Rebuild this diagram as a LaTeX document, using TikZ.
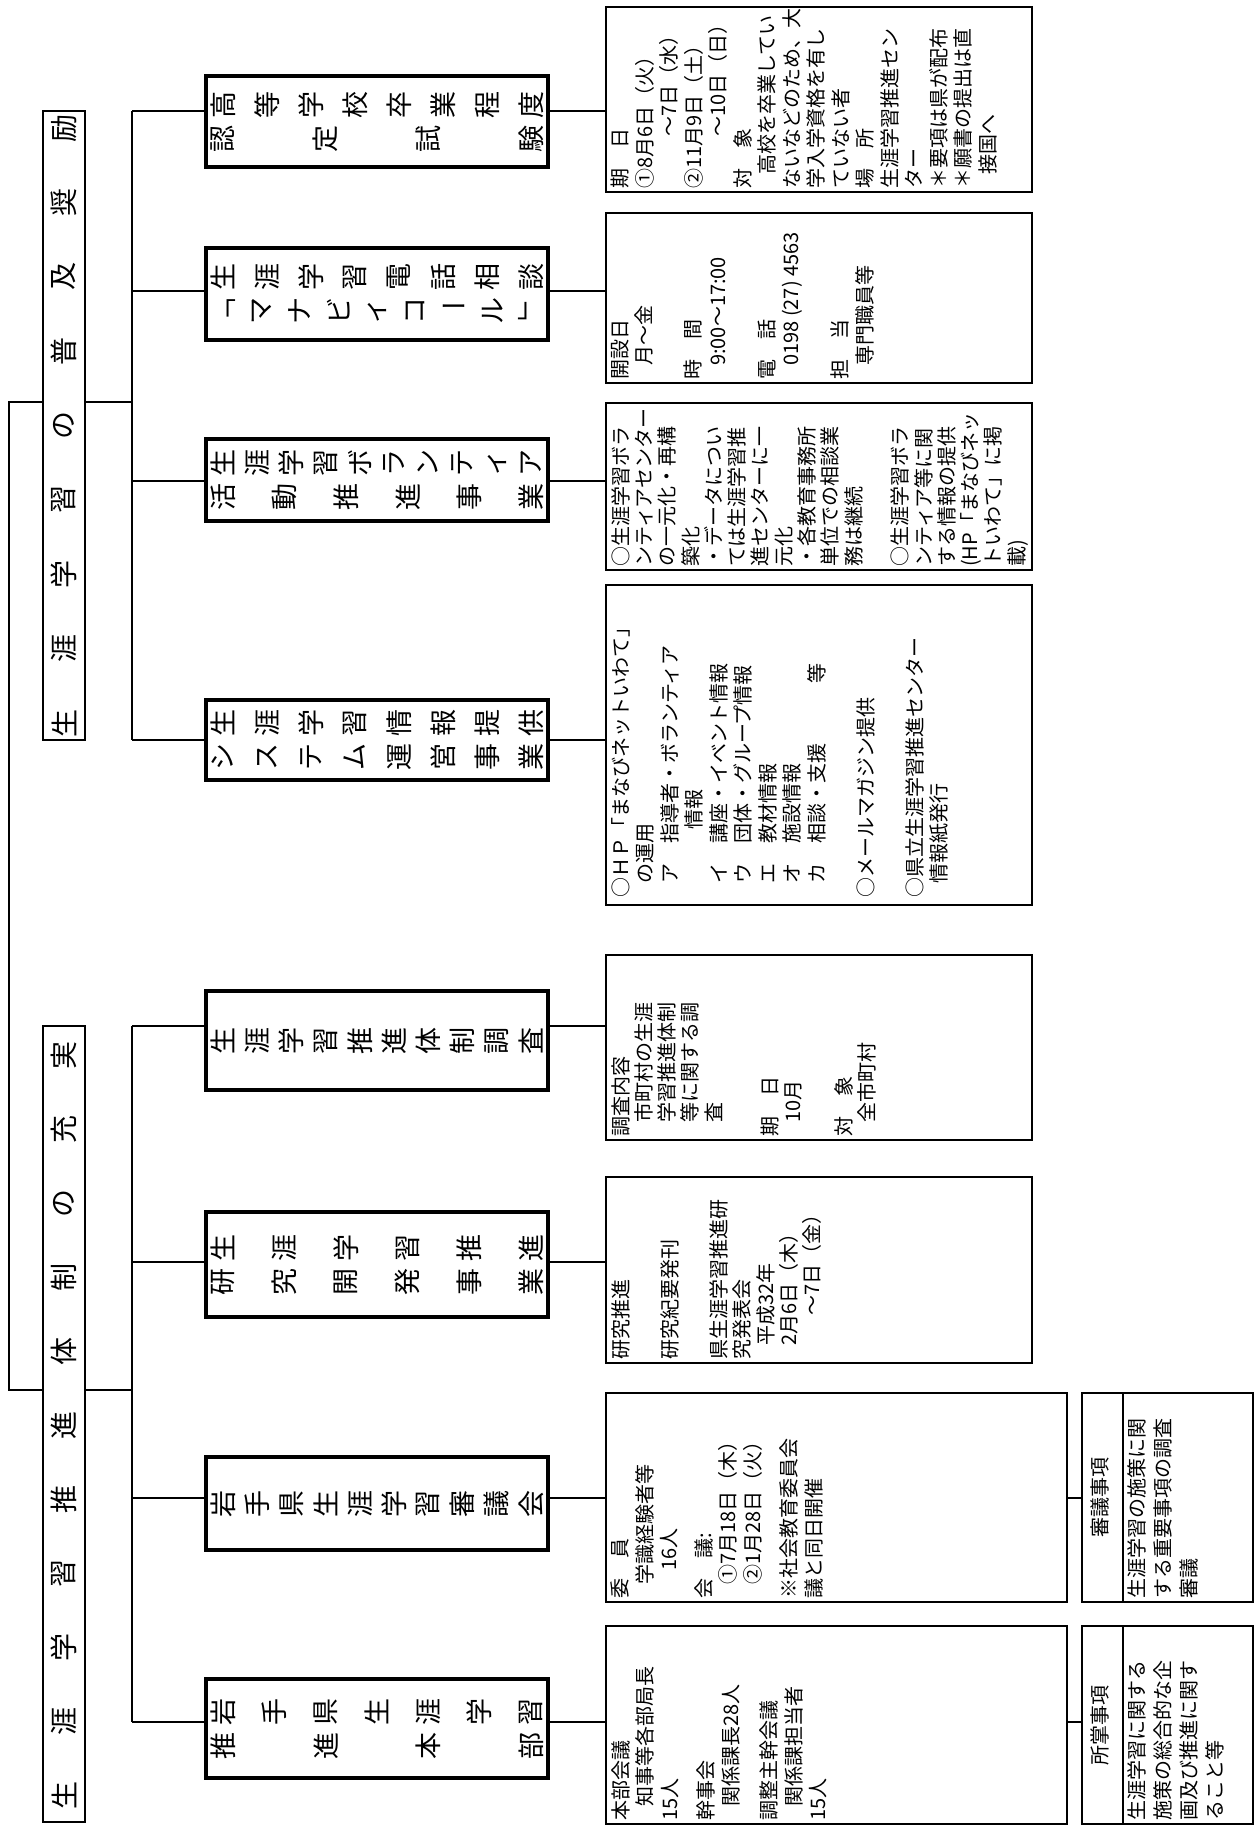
\documentclass[tikz,border=0pt]{standalone}
\usepackage{fontspec}
\setmainfont{Noto Sans CJK JP}
\newcommand{\ii}{\hspace*{0.7em}}
\newcommand{\tcol}[4]{%
  \foreach \ch [count=\idx from 0] in {#4}
    \node[tch] (#1\idx) at ({223+\idx*308/(#3-1)},#2) {\ch};}
\begin{document}
\begin{tikzpicture}[x=1pt,y=-1pt,
  strip/.style={draw, line width=2.5pt, minimum width=42pt, inner sep=0pt},
  tbox/.style={draw, line width=4.5pt, minimum width=342pt, inner sep=0pt},
  dbox/.style={draw, line width=2pt, inner sep=0pt},
  link/.style={line width=2pt},
  dtext/.style={rotate=90, anchor=north west, align=left, inner sep=0pt, font=\fontsize{20}{24.5}\selectfont},
  tch/.style={rotate=90, inner sep=0pt, font=\fontsize{27}{27}\selectfont},
  tchh/.style={inner sep=0pt, font=\fontsize{27}{27}\selectfont},
  sch/.style={rotate=90, inner sep=0pt, font=\fontsize{28}{28}\selectfont},
  stitle/.style={rotate=90, inner sep=0pt, font=\fontsize{20}{24}\selectfont},
]
\path[use as bounding box, fill=white] (0,0) rectangle (1259,1828);

% ---- top-level strips
\node[strip, minimum height=629pt] (A) at (64,425.5) {};
\node[strip, minimum height=796pt] (B) at (64,1424) {};
\foreach \ch [count=\idx from 0] in {生,涯,学,習,の,普,及,奨,励}
  \node[sch] (a\idx) at (64,{723-\idx*74.375}) {\ch};
\foreach \ch [count=\idx from 0] in {生,涯,学,習,推,進,体,制,の,充,実}
  \node[sch] (b\idx) at (64,{1795-\idx*74}) {\ch};

% ---- bracket joining the strips
\coordinate (brA) at (9,402);
\coordinate (brB) at (9,1390);
\draw[link] (A.west|-brA) -- (brA) -- (brB) -- (B.west|-brB);

% ---- thick boxes
\node[tbox, minimum height=91pt] (T1) at (377,121.5) {};
\node[tbox, minimum height=92pt] (T2) at (377,294) {};
\node[tbox, minimum height=82pt] (T3) at (377,480) {};
\node[tbox, minimum height=80pt] (T4) at (377,740) {};
\node[tbox, minimum height=99pt] (T5) at (377,1040.5) {};
\node[tbox, minimum height=105pt] (T6) at (377,1264.5) {};
\node[tbox, minimum height=93pt] (T7) at (377,1503.5) {};
\node[tbox, minimum height=99pt] (T8) at (377,1728.5) {};

\tcol{ta}{104.5}{8}{高,等,学,校,卒,業,程,度}
\tcol{tb}{138.5}{4}{認,定,試,験}
\tcol{tc}{277}{8}{生,涯,学,習,電,話,相,談}
\foreach \ch/\rr [count=\idx from 0] in {「/0,マ/90,ナ/90,ビ/90,ィ/90,コ/90,ー/0,ル/90,」/0}
  \node[tchh, rotate=\rr] (td\idx) at ({223+\idx*308/8},311) {\ch};
\tcol{te}{463}{10}{生,涯,学,習,ボ,ラ,ン,テ,ィ,ア}
\tcol{tf}{497}{6}{活,動,推,進,事,業}
\tcol{tg}{723}{8}{生,涯,学,習,情,報,提,供}
\tcol{th}{757}{8}{シ,ス,テ,ム,運,営,事,業}
\tcol{ti}{1040.5}{10}{生,涯,学,習,推,進,体,制,調,査}
\tcol{tj}{1248}{6}{生,涯,学,習,推,進}
\tcol{tk}{1282}{6}{研,究,開,発,事,業}
\tcol{tl}{1503.5}{10}{岩,手,県,生,涯,学,習,審,議,会}
\tcol{tm}{1712}{7}{岩,手,県,生,涯,学,習}
\tcol{tn}{1746}{4}{推,進,本,部}

% ---- detail boxes
\node[dbox, minimum width=426pt, minimum height=185pt] (D1) at (819,99.5) {};
\node[dbox, minimum width=426pt, minimum height=170pt] (D2) at (819,298) {};
\node[dbox, minimum width=426pt, minimum height=167pt] (D3) at (819,486.5) {};
\node[dbox, minimum width=426pt, minimum height=320pt] (D4) at (819,745) {};
\node[dbox, minimum width=426pt, minimum height=185pt] (D5) at (819,1047.5) {};
\node[dbox, minimum width=426pt, minimum height=186pt] (D6) at (819,1270) {};
\node[dbox, minimum width=461pt, minimum height=209pt] (D7) at (836.5,1497.5) {};
\node[dbox, minimum width=461pt, minimum height=198pt] (D8) at (836.5,1725) {};
\node[dbox, minimum width=171pt, minimum height=209pt] (S7) at (1167.5,1497.5) {};
\node[dbox, minimum width=171pt, minimum height=198pt] (S8) at (1167.5,1725) {};

% ---- trunks and branches
\coordinate (jA) at (132,402);
\coordinate (jB) at (132,1390);
\coordinate (p1) at (132,111);
\coordinate (p2) at (132,291);
\coordinate (p3) at (132,481);
\coordinate (p4) at (132,740);
\coordinate (p5) at (132,1026);
\coordinate (p6) at (132,1262);
\coordinate (p7) at (132,1498);
\coordinate (p8) at (132,1722);
\draw[link] (A.east|-jA) -- (jA);
\draw[link] (B.east|-jB) -- (jB);
\draw[link] (p1) -- (p4);
\draw[link] (p5) -- (p8);
\foreach \k in {1,...,8} {
  \draw[link] (p\k) -- (T\k.west|-p\k);
  \draw[link] (T\k.east|-p\k) -- (D\k.west|-p\k);
}
\draw[link] (D7.east|-p7) -- (S7.west|-p7);
\draw[link] (D8.east|-p8) -- (S8.west|-p8);

% ---- detail texts
\node[dtext] (d1t) at ([xshift=6pt,yshift=4pt]D1.south west) {期　日\\
①8月6日（火）\\
\hspace*{2.6em}～7日（水）\\
②11月9日（土）\\
\hspace*{2.6em}～10日（日）\\
対　象\\
\ii 高校を卒業してい\\
ないなどのため、大\\
学入学資格を有し\\
ていない者\\
場　所\\
生涯学習推進セン\\
ター\\
＊要項は県が配布\\
＊願書の提出は直\\
\ii 接国へ};

\node[dtext] (d2t) at ([xshift=6pt,yshift=4pt]D2.south west) {開設日\\
\ii 月～金\\[24.5pt]
時　間\\
\ii 9:00～17:00\\[24.5pt]
電　話\\
\ii 0198 (27) 4563\\[24.5pt]
担　当\\
\ii 専門職員等};

\node[dtext, font=\fontsize{20}{23.3}\selectfont] (d3t) at ([xshift=6pt,yshift=4pt]D3.south west) {○生涯学習ボラ\\
ンティアセンター\\
の一元化・再構\\
築化\\
・データについ\\
ては生涯学習推\\
進センターに一\\
元化\\
・各教育事務所\\
単位での相談業\\
務は継続\\[23.3pt]
○生涯学習ボラ\\
ンティア等に関\\
する情報の提供\\
(HP「まなびネッ\\
トいわて」に掲\\
載)};

\node[dtext] (d4t) at ([xshift=6pt,yshift=8pt]D4.south west) {○ＨＰ「まなびネットいわて」\\
\ii の運用\\
\ii ア　指導者・ボランティア\\
\hspace*{3.4em}情報\\
\ii イ　講座・イベント情報\\
\ii ウ　団体・グループ情報\\
\ii エ　教材情報\\
\ii オ　施設情報\\
\ii カ　相談・支援　　　等\\[24.5pt]
○メールマガジン提供\\[24.5pt]
○県立生涯学習推進センター\\
\ii 情報紙発行};

\node[dtext, font=\fontsize{20}{23.3}\selectfont] (d5t) at ([xshift=6pt,yshift=4pt]D5.south west) {調査内容\\
\ii 市町村の生涯\\
\ii 学習推進体制\\
\ii 等に関する調\\
\ii 査\\[33pt]
期　日\\
\ii 10月\\[27pt]
対　象\\
\ii 全市町村};

\node[dtext, font=\fontsize{20}{23.3}\selectfont] (d6t) at ([xshift=6pt,yshift=4pt]D6.south west) {研究推進\\[26pt]
研究紀要発刊\\[26pt]
県生涯学習推進研\\
究発表会\\
\ii 平成32年\\
\ii 2月6日（木）\\
\hspace*{2.2em}～7日（金）};

\node[dtext] (d7t) at ([xshift=6pt,yshift=4pt]D7.south west) {委　員\\
\ii 学識経験者等\\
\hspace*{1.4em}16人\\[10pt]
会　議:\\
\ii ①7月18日（木）\\
\ii ②1月28日（火）\\[12pt]
※社会教育委員会\\
議と同日開催};

\node[dtext] (d8t) at ([xshift=6pt,yshift=4pt]D8.south west) {本部会議\\
\ii 知事等各部局長\\
15人\\[12pt]
幹事会\\
\ii 関係課長28人\\[14pt]
調整主幹会議\\
\ii 関係課担当者\\
15人};

% ---- small boxes
\node[stitle] (s7h) at ([xshift=19pt]S7.west) {審議事項};
\draw[line width=1.5pt] ([xshift=42pt]S7.north west) -- ([xshift=42pt]S7.south west);
\node[dtext, font=\fontsize{20}{26}\selectfont] (s7t) at ([xshift=46pt,yshift=4pt]S7.south west) {生涯学習の施策に関\\
する重要事項の調査\\
審議};

\node[stitle] (s8h) at ([xshift=19pt]S8.west) {所掌事項};
\draw[line width=1.5pt] ([xshift=42pt]S8.north west) -- ([xshift=42pt]S8.south west);
\node[dtext, font=\fontsize{20}{26}\selectfont] (s8t) at ([xshift=46pt,yshift=4pt]S8.south west) {生涯学習に関する\\
施策の総合的な企\\
画及び推進に関す\\
ること等};
\end{tikzpicture}
\end{document}
